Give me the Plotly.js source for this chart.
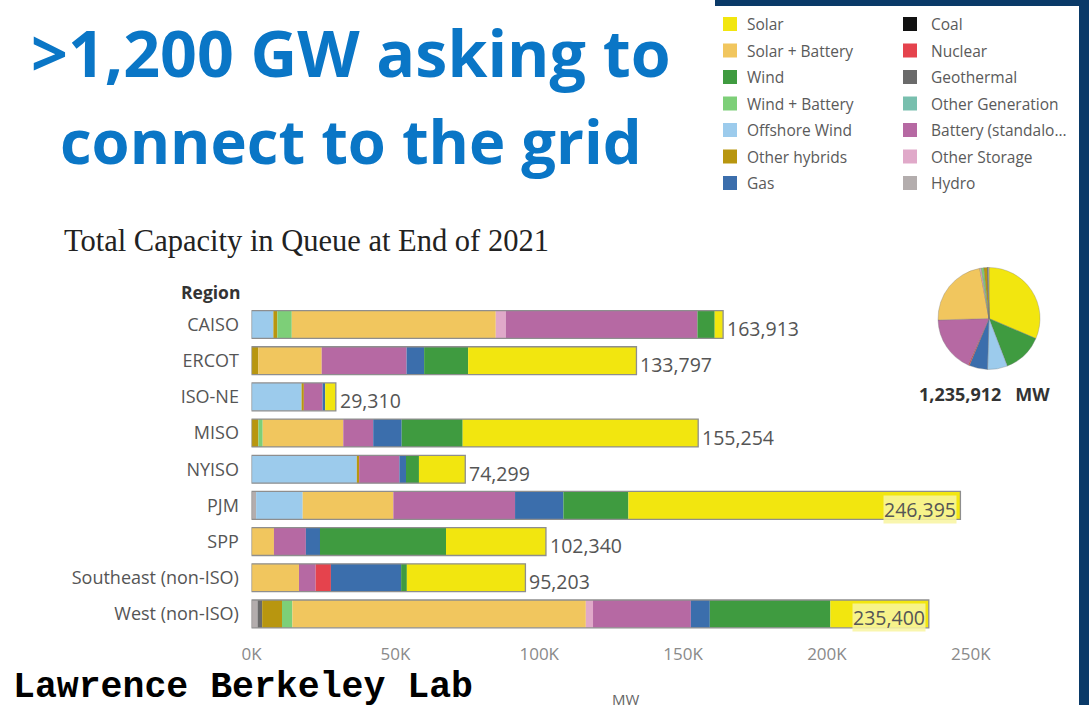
<!DOCTYPE html>
<html>
<head>
<meta charset="utf-8">
<script src="https://cdn.plot.ly/plotly-3.0.1.min.js"></script>
<style>html,body{margin:0;padding:0;background:#fff;}#chart{width:1089px;height:705px;}</style>
</head>
<body>
<div id="chart"></div>
<script>
// ---------------- DATA (MW) ----------------
const regions = ["CAISO","ERCOT","ISO-NE","MISO","NYISO","PJM","SPP","Southeast (non-ISO)","West (non-ISO)"];
// series in stacking order (left -> right)
const hydro        = [0, 0, 0, 0, 0, 1600, 0, 0, 2100];
const geothermal   = [0, 0, 0, 0, 0, 0, 0, 0, 1600];
const coal         = [0, 0, 0, 0, 0, 0, 0, 0, 0];
const otherGen     = [0, 0, 0, 0, 0, 0, 0, 0, 0];
const offshoreWind = [7600, 0, 17400, 0, 36600, 16200, 0, 0, 0];
const otherHybrids = [1400, 2400, 800, 2400, 800, 0, 0, 0, 6900];
const windBattery  = [5000, 0, 0, 1500, 0, 0, 0, 0, 3600];
const solarBattery = [70900, 22000, 0, 28000, 0, 31500, 7800, 16500, 102000];
const otherStorage = [3500, 0, 0, 0, 0, 0, 0, 0, 2500];
const battery      = [66600, 29500, 6500, 10400, 14000, 42300, 11100, 5800, 34000];
const nuclear      = [0, 0, 0, 0, 0, 0, 0, 5300, 0];
const gas          = [0, 6100, 900, 9900, 2300, 16800, 4900, 24400, 6600];
const wind         = [6000, 15300, 0, 21200, 4500, 22600, 43800, 2000, 41900];
const solar        = [2913, 58497, 3710, 81854, 16099, 115395, 34740, 41203, 34200];
const grandTotalMW = 1235912;
const xTickVals  = [0, 50000, 100000, 150000, 200000, 250000];
const xTickText  = ["0K","50K","100K","150K","200K","250K"];
// legend columns (as in the reference)
const legendCol1 = ["Solar","Solar + Battery","Wind","Wind + Battery","Offshore Wind","Other hybrids","Gas"];
const legendCol2 = ["Coal","Nuclear","Geothermal","Other Generation","Battery (standalo...","Other Storage","Hydro"];

// ---------------- STYLE ----------------
const colors = {
  "Solar":"#f2e60f","Solar + Battery":"#f1c65e","Wind":"#3f9b40","Wind + Battery":"#7dcf78",
  "Offshore Wind":"#9ccbec","Other hybrids":"#b8960f","Gas":"#3b6eac","Coal":"#111111",
  "Nuclear":"#e5434d","Geothermal":"#6a6a6a","Other Generation":"#78bfae",
  "Battery (standalo...":"#b669a3","Other Storage":"#e0a9c9","Hydro":"#b3adad"
};
const stack = [
  ["Hydro", hydro], ["Geothermal", geothermal], ["Coal", coal], ["Other Generation", otherGen],
  ["Offshore Wind", offshoreWind], ["Other hybrids", otherHybrids], ["Wind + Battery", windBattery],
  ["Solar + Battery", solarBattery], ["Other Storage", otherStorage], ["Battery (standalo...", battery],
  ["Nuclear", nuclear], ["Gas", gas], ["Wind", wind], ["Solar", solar]
];

const W = 1089, H = 705;
const px = x => x / W, py = y => 1 - y / H;
const FONT = "Open Sans, Lato, DejaVu Sans, sans-serif";

const traces = [];
const cum = regions.map(() => 0);
stack.forEach(([name, vals]) => {
  traces.push({
    type: "bar", orientation: "h", y: regions, x: vals.slice(), base: cum.slice(),
    width: 0.77, marker: {color: colors[name], line: {width: 0}},
    hoverinfo: "skip", showlegend: false, name: name
  });
  vals.forEach((v, i) => cum[i] += v);
});
const totals = cum.slice();
// bar outline
traces.push({
  type: "bar", orientation: "h", y: regions, x: totals, base: regions.map(() => 0),
  width: 0.77, marker: {color: "rgba(0,0,0,0)", line: {color: "#8e8e8e", width: 1.3}},
  hoverinfo: "skip", showlegend: false
});

// pie of totals per type
const pieOrder = ["Solar","Wind","Offshore Wind","Gas","Nuclear","Battery (standalo...","Solar + Battery",
                  "Other Storage","Wind + Battery","Other hybrids","Coal","Other Generation","Geothermal","Hydro"];
const stackMap = Object.fromEntries(stack);
const pieVals = pieOrder.map(n => stackMap[n].reduce((a, b) => a + b, 0));
traces.push({
  type: "pie", labels: pieOrder, values: pieVals, sort: false, direction: "clockwise", rotation: 0,
  marker: {colors: pieOrder.map(n => colors[n]), line: {color: "rgba(120,120,120,0.55)", width: 0.6}},
  textinfo: "none", hoverinfo: "skip", showlegend: false,
  domain: {x: [px(938), px(1040)], y: [py(370), py(267)]}
});

const fmt = v => v.toLocaleString("en-US");
const annotations = [];
const shapes = [];

// value labels
totals.forEach((t, i) => {
  const inside = t > 200000;
  annotations.push({
    x: t, y: regions[i], xref: "x", yref: "y", text: fmt(t), showarrow: false,
    xanchor: inside ? "right" : "left", xshift: inside ? -3 : 3, yshift: -4,
    font: {family: FONT, size: 19.5, color: "#555"},
    bgcolor: inside ? "rgba(248,245,160,0.85)" : "rgba(0,0,0,0)", borderpad: 0
  });
});

// headline
const HFONT = "Open Sans, Lato, sans-serif";
annotations.push({xref:"paper", yref:"paper", x: px(351), y: py(52), text: "<b>&gt;1,200 GW asking to</b>",
  showarrow:false, xanchor:"center", yanchor:"middle", font:{family:HFONT, size:64.5, color:"#0a76c6"}});
annotations.push({xref:"paper", yref:"paper", x: px(351), y: py(140), text: "<b>connect to the grid</b>",
  showarrow:false, xanchor:"center", yanchor:"middle", font:{family:HFONT, size:61.5, color:"#0a76c6"}});
// chart title
annotations.push({xref:"paper", yref:"paper", x: px(62), y: py(241), text: "Total Capacity in Queue at End of 2021",
  showarrow:false, xanchor:"left", yanchor:"middle", font:{family:"Liberation Serif, Times New Roman, serif", size:30.5, color:"#222"}});
// Region header
annotations.push({xref:"paper", yref:"paper", x: px(242), y: py(292), text: "<b>Region</b>",
  showarrow:false, xanchor:"right", yanchor:"middle", font:{family:FONT, size:17.5, color:"#333"}});
// MW axis title (partly cut at bottom, as in the reference)
annotations.push({xref:"paper", yref:"paper", x: px(625), y: py(699), text: "MW",
  showarrow:false, xanchor:"center", yanchor:"middle", font:{family:FONT, size:15, color:"#666"}});
// Lawrence Berkeley Lab
annotations.push({xref:"paper", yref:"paper", x: px(11), y: py(687), text: "<b>Lawrence Berkeley Lab</b>",
  showarrow:false, xanchor:"left", yanchor:"middle", font:{family:"Courier New, Liberation Mono, monospace", size:36.5, color:"#000"}});
// pie total
annotations.push({xref:"paper", yref:"paper", x: px(1052), y: py(394), text: "<b>" + fmt(grandTotalMW) + "</b>   <b>MW</b>",
  showarrow:false, xanchor:"right", yanchor:"middle", font:{family:FONT, size:18, color:"#333"}});

// legend (manual two-column)
const rowY = r => 24 + r * 26.5;
[[legendCol1, 723, 745], [legendCol2, 903, 929]].forEach(([items, sx, tx]) => {
  items.forEach((name, r) => {
    const y = rowY(r);
    shapes.push({type:"rect", xref:"paper", yref:"paper", x0: px(sx), x1: px(sx+14), y0: py(y+7), y1: py(y-7),
      fillcolor: colors[name], line:{width:0}});
    annotations.push({xref:"paper", yref:"paper", x: px(tx), y: py(y), text: name, showarrow:false,
      xanchor:"left", yanchor:"middle", font:{family:FONT, size:15.5, color:"#5a5a5a"}});
  });
});

// navy frame
const NAVY = "#0a3a68";
shapes.push({type:"rect", xref:"paper", yref:"paper", x0: px(715), x1: 1, y0: py(6), y1: 1, fillcolor: NAVY, line:{width:0}});
shapes.push({type:"rect", xref:"paper", yref:"paper", x0: px(1079), x1: 1, y0: 0, y1: 1, fillcolor: NAVY, line:{width:0}});

const layout = {
  width: W, height: H, margin: {l:0, r:0, t:0, b:0},
  paper_bgcolor: "#fff", plot_bgcolor: "rgba(0,0,0,0)",
  barmode: "overlay", showlegend: false,
  font: {family: FONT},
  xaxis: {domain: [px(251.5), px(980)], range: [0, 253200], tickvals: xTickVals, ticktext: xTickText,
    showgrid: false, zeroline: false, showline: false, ticks: "outside", ticklen: 7, tickcolor: "rgba(0,0,0,0)",
    tickfont: {family: FONT, size: 17, color: "#8a8a8a"}, fixedrange: true},
  yaxis: {domain: [py(632), py(306)], type: "category", categoryarray: regions, categoryorder: "array",
    autorange: "reversed", showgrid: false, zeroline: false, showline: false, ticks: "outside", ticklen: 8,
    tickcolor: "rgba(0,0,0,0)", tickfont: {family: FONT, size: 18, color: "#555"}, fixedrange: true},
  annotations: annotations, shapes: shapes
};

Plotly.newPlot("chart", traces, layout, {displayModeBar: false, staticPlot: true});
</script>
</body>
</html>
